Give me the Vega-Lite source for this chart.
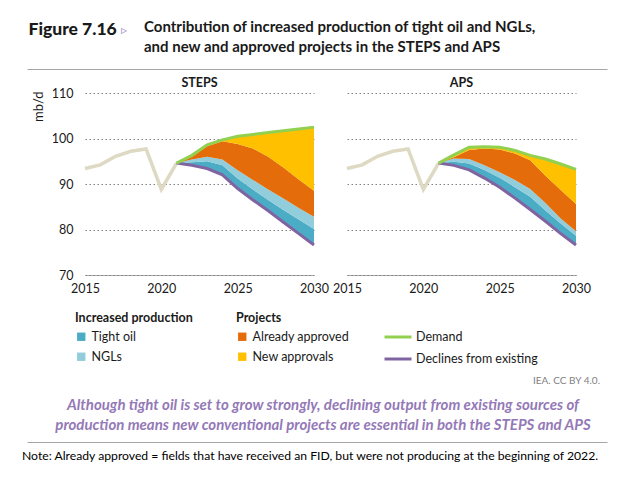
{
  "$schema": "https://vega.github.io/schema/vega-lite/v6.json",
  "padding": {"left": 22, "top": 20, "right": 5, "bottom": 5},
  "background": "white",
  "columns": 1,
  "spacing": 7,
  "config": {
    "view": {"stroke": null},
    "font": "Lato",
    "axis": {"labelFont": "Lato", "labelColor": "#1a1a1a", "labelFontSize": 12.5, "titleFont": "Lato", "labelFlush": false},
    "axisY": {"grid": true, "gridDash": [1.5, 2.5], "gridColor": "#808080", "domain": false, "ticks": false, "labelPadding": 12, "tickCount": 4, "titleFontWeight": "normal", "titleFontSize": 13, "titleColor": "#1a1a1a"},
    "axisX": {"grid": false, "ticks": false, "domainColor": "#a6a6a6", "labelPadding": 7},
    "legend": {"labelFont": "Lato", "titleFont": "Lato", "labelFontSize": 12.5, "titleFontSize": 12.5, "labelColor": "#1a1a1a", "titleColor": "#1a1a1a"},
    "title": {"font": "Lato"}
  },
  "concat": [
    {
      "width": 522,
      "height": 1,
      "data": {"values": []},
      "mark": "point",
      "encoding": {
        "x": {"field": "t", "type": "quantitative", "scale": {"domain": [0, 1], "range": [-58, 522]},
          "axis": {"title": "▹", "titleColor": "#a08cc8", "titleFontSize": 12, "titleFontWeight": "normal", "titleX": 38, "titleY": -40, "titleAlign": "center", "titleBaseline": "middle",
            "labels": false, "ticks": false, "grid": false, "domain": true, "domainColor": "#a6a6a6", "domainWidth": 1.2, "minExtent": 0, "maxExtent": 0}},
        "y": {"field": "u", "type": "quantitative", "scale": {"domain": [0, 1]},
          "axis": {"title": "Figure 7.16", "titleColor": "#1a1a1a", "titleFontSize": 17.5, "titleFontWeight": 900, "titleAngle": 0, "titleX": -57, "titleY": -39, "titleAlign": "left", "titleBaseline": "middle",
            "labels": false, "ticks": false, "grid": false, "domain": false, "minExtent": 0, "maxExtent": 0}}
      },
      "title": {
        "text": ["Contribution of increased production of tight oil and NGLs,", "and new and approved projects in the STEPS and APS"],
        "anchor": "start",
        "fontSize": 15,
        "fontWeight": "bold",
        "color": "#1a1a1a",
        "lineHeight": 20,
        "offset": -35,
        "dx": 116
      }
    },
    {
      "data": {"values": [
        {"s": "STEPS", "year": 2015, "hist": 93.4},
        {"s": "STEPS", "year": 2016, "hist": 94.2},
        {"s": "STEPS", "year": 2017, "hist": 96.1},
        {"s": "STEPS", "year": 2018, "hist": 97.2},
        {"s": "STEPS", "year": 2019, "hist": 97.7},
        {"s": "STEPS", "year": 2020, "hist": 88.8},
        {"s": "STEPS", "year": 2021, "hist": 94.6, "decl": 94.6, "tight": 94.6, "ngl": 94.6, "appr": 94.6, "demand": 94.6},
        {"s": "STEPS", "year": 2022, "decl": 94.1, "tight": 94.8, "ngl": 95.4, "appr": 96.0, "demand": 96.3},
        {"s": "STEPS", "year": 2023, "decl": 93.4, "tight": 95.0, "ngl": 96.0, "appr": 98.3, "demand": 98.6},
        {"s": "STEPS", "year": 2024, "decl": 92.0, "tight": 94.1, "ngl": 95.4, "appr": 99.4, "demand": 99.7},
        {"s": "STEPS", "year": 2025, "decl": 89.0, "tight": 91.2, "ngl": 93.0, "appr": 98.8, "demand": 100.5},
        {"s": "STEPS", "year": 2026, "decl": 86.5, "tight": 88.8, "ngl": 90.9, "appr": 97.8, "demand": 100.9},
        {"s": "STEPS", "year": 2027, "decl": 84.1, "tight": 86.5, "ngl": 88.8, "appr": 96.0, "demand": 101.3},
        {"s": "STEPS", "year": 2028, "decl": 81.6, "tight": 84.3, "ngl": 86.8, "appr": 93.6, "demand": 101.7},
        {"s": "STEPS", "year": 2029, "decl": 79.1, "tight": 82.2, "ngl": 84.7, "appr": 91.0, "demand": 102.1},
        {"s": "STEPS", "year": 2030, "decl": 76.6, "tight": 80.1, "ngl": 82.8, "appr": 88.5, "demand": 102.5},
        {"s": "APS", "year": 2015, "hist": 93.4},
        {"s": "APS", "year": 2016, "hist": 94.2},
        {"s": "APS", "year": 2017, "hist": 96.1},
        {"s": "APS", "year": 2018, "hist": 97.2},
        {"s": "APS", "year": 2019, "hist": 97.7},
        {"s": "APS", "year": 2020, "hist": 88.8},
        {"s": "APS", "year": 2021, "hist": 94.6, "decl": 94.6, "tight": 94.6, "ngl": 94.6, "appr": 94.6, "demand": 94.6},
        {"s": "APS", "year": 2022, "decl": 94.1, "tight": 94.9, "ngl": 95.6, "appr": 95.9, "demand": 96.4},
        {"s": "APS", "year": 2023, "decl": 93.1, "tight": 94.5, "ngl": 95.5, "appr": 97.5, "demand": 98.1},
        {"s": "APS", "year": 2024, "decl": 91.3, "tight": 93.1, "ngl": 94.1, "appr": 97.8, "demand": 98.2},
        {"s": "APS", "year": 2025, "decl": 89.3, "tight": 91.4, "ngl": 92.6, "appr": 97.6, "demand": 98.1},
        {"s": "APS", "year": 2026, "decl": 86.9, "tight": 89.3, "ngl": 90.9, "appr": 96.7, "demand": 97.4},
        {"s": "APS", "year": 2027, "decl": 84.4, "tight": 87.2, "ngl": 88.9, "appr": 95.2, "demand": 96.3},
        {"s": "APS", "year": 2028, "decl": 81.8, "tight": 84.2, "ngl": 85.8, "appr": 91.8, "demand": 95.5},
        {"s": "APS", "year": 2029, "decl": 79.1, "tight": 81.3, "ngl": 82.4, "appr": 88.7, "demand": 94.4},
        {"s": "APS", "year": 2030, "decl": 76.6, "tight": 78.6, "ngl": 79.6, "appr": 85.6, "demand": 93.2}
      ]},
      "bounds": "flush",
      "spacing": 33,
      "facet": {
        "column": {
          "field": "s", "type": "nominal", "sort": ["STEPS", "APS"], "title": null,
          "header": {"labelFontWeight": "bold", "labelFontSize": 12.5, "labelColor": "#1a1a1a", "labelPadding": 4, "labelFont": "Lato"}
        }
      },
      "spec": {
        "width": 229,
        "height": 182,
        "encoding": {
          "x": {"field": "year", "type": "quantitative", "title": null,
            "scale": {"domain": [2015, 2030], "nice": false, "zero": false},
            "axis": {"values": [2015, 2020, 2025, 2030], "format": "d"}}
        },
        "layer": [
          {
            "mark": {"type": "area"},
            "encoding": {
              "y": {"field": "tight", "type": "quantitative", "scale": {"domain": [70, 110], "nice": false, "zero": false},
                "axis": {"title": "mb/d", "titleAngle": -90, "titleX": -47, "titleY": -2, "titleAlign": "right", "titleBaseline": "middle"}},
              "y2": {"field": "decl"},
              "fill": {"datum": "Tight oil", "type": "nominal",
                "scale": {"domain": ["Tight oil", "NGLs"], "range": ["#4bacc6", "#92cddc"]},
                "legend": {"title": "Increased production", "orient": "none", "legendX": -10, "legendY": 244, "symbolType": "square", "symbolSize": 70, "titleFontWeight": "bold", "titlePadding": 6, "rowPadding": 7, "labelOffset": 4, "symbolStrokeWidth": 0}}
            }
          },
          {
            "mark": {"type": "area"},
            "encoding": {
              "y": {"field": "ngl", "type": "quantitative", "title": "mb/d", "scale": {"domain": [70, 110], "nice": false, "zero": false}},
              "y2": {"field": "tight"},
              "fill": {"datum": "NGLs", "type": "nominal"}
            }
          },
          {
            "mark": {"type": "area"},
            "encoding": {
              "y": {"field": "appr", "type": "quantitative", "title": "mb/d", "scale": {"domain": [70, 110], "nice": false, "zero": false}},
              "y2": {"field": "ngl"},
              "color": {"datum": "Already approved", "type": "nominal",
                "scale": {"domain": ["Already approved", "New approvals"], "range": ["#e46c0a", "#ffc000"]},
                "legend": {"title": "Projects", "orient": "none", "legendX": 151, "legendY": 244, "symbolType": "square", "symbolSize": 70, "titleFontWeight": "bold", "titlePadding": 6, "rowPadding": 7, "labelOffset": 4, "symbolStrokeWidth": 0}}
            }
          },
          {
            "mark": {"type": "area"},
            "encoding": {
              "y": {"field": "demand", "type": "quantitative", "title": "mb/d", "scale": {"domain": [70, 110], "nice": false, "zero": false}},
              "y2": {"field": "appr"},
              "color": {"datum": "New approvals", "type": "nominal"}
            }
          },
          {
            "mark": {"type": "line", "strokeWidth": 3.5, "stroke": "#ddd9c3"},
            "encoding": {
              "y": {"field": "hist", "type": "quantitative", "title": "mb/d", "scale": {"domain": [70, 110], "nice": false, "zero": false}}
            }
          },
          {
            "mark": {"type": "line", "strokeWidth": 3},
            "encoding": {
              "y": {"field": "decl", "type": "quantitative", "title": "mb/d", "scale": {"domain": [70, 110], "nice": false, "zero": false}},
              "stroke": {"datum": "Declines from existing", "type": "nominal",
                "scale": {"domain": ["Demand", "Declines from existing"], "range": ["#92d050", "#8064a2"]},
                "legend": {"title": null, "orient": "none", "legendX": 298, "legendY": 254, "symbolType": "stroke", "symbolSize": 729, "symbolStrokeWidth": 3, "rowPadding": -6, "labelOffset": 3}}
            }
          },
          {
            "mark": {"type": "line", "strokeWidth": 3},
            "encoding": {
              "y": {"field": "demand", "type": "quantitative", "title": "mb/d", "scale": {"domain": [70, 110], "nice": false, "zero": false}},
              "stroke": {"datum": "Demand", "type": "nominal"}
            }
          }
        ]
      }
    },
    {
      "width": 522,
      "height": 89,
      "data": {"values": []},
      "mark": "point",
      "encoding": {},
      "title": {"text": "IEA. CC BY 4.0.", "orient": "bottom", "anchor": "end", "fontSize": 10, "fontWeight": "normal", "color": "#7f7f7f", "offset": -15, "dx": -7}
    },
    {
      "width": 522,
      "height": 1,
      "data": {"values": []},
      "mark": "point",
      "encoding": {
        "x": {"field": "t", "type": "quantitative", "scale": {"domain": [0, 1], "range": [-58, 522]},
          "axis": {"title": null, "labels": false, "ticks": false, "grid": false, "domain": true, "domainColor": "#a6a6a6", "domainWidth": 1.2, "minExtent": 0, "maxExtent": 0}}
      },
      "title": {
        "text": ["Although tight oil is set to grow strongly, declining output from existing sources of", "production means new conventional projects are essential in both the STEPS and APS"],
        "anchor": "middle",
        "fontSize": 15,
        "fontWeight": "bold",
        "fontStyle": "italic",
        "color": "#9479b7",
        "lineHeight": 20,
        "offset": 8,
        "dx": -23
      }
    },
    {
      "width": 522,
      "height": 1,
      "data": {"values": []},
      "mark": "point",
      "encoding": {},
      "title": {"text": "Note: Already approved = fields that have received an FID, but were not producing at the beginning of 2022.", "anchor": "start", "fontSize": 12.2, "fontWeight": "normal", "color": "#000000", "dx": -63, "offset": 2}
    }
  ]
}
